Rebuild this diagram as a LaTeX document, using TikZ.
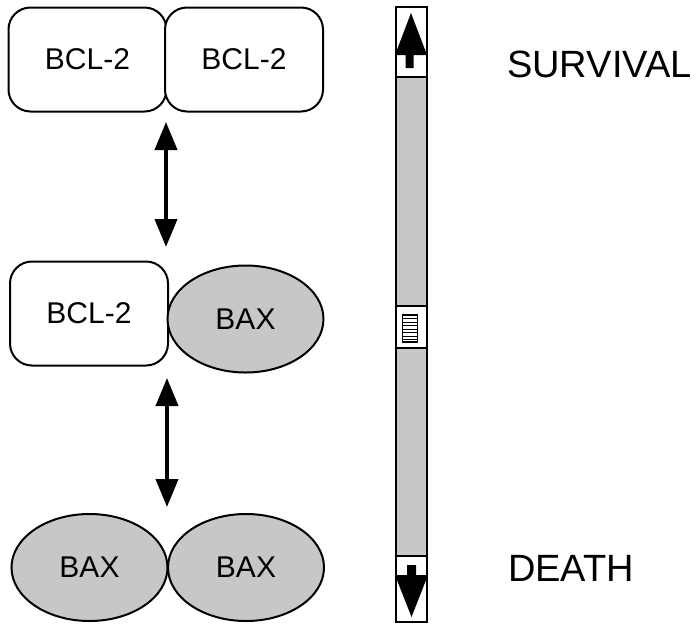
\documentclass[tikz,border=0pt]{standalone}
\usepackage{fontspec}
\setmainfont{Liberation Sans}
\usetikzlibrary{shapes.geometric,arrows.meta}
\tikzset{
  prot/.style={draw=black, line width=2pt, rounded corners=22pt, fill=white,
    minimum width=158pt, minimum height=104pt, inner sep=0pt,
    font=\fontsize{30pt}{33pt}\selectfont},
  baxe/.style={draw=black, line width=2pt, ellipse, fill=black!22,
    minimum width=156pt, minimum height=107pt, inner sep=0pt,
    font=\fontsize{30pt}{33pt}\selectfont},
  dbl/.style={line width=4pt, {Triangle[length=28pt,width=22pt]}-{Triangle[length=28pt,width=22pt]}},
  side/.style={font=\fontsize{38pt}{42pt}\selectfont, anchor=west, inner sep=0pt},
  bar/.style={draw=black, line width=2pt},
  track/.style={fill=black!22, draw=black, line width=2pt}
}
\begin{document}
\begin{tikzpicture}[x=1pt,y=-1pt]
\useasboundingbox (0,0) rectangle (696,625);
% top pair
\node[prot] (tl) at (87.5,59.5) {BCL-2};
\node[prot] (tr) at (244,59.5) {BCL-2};
% middle pair
\node[prot] (ml) at (89,313.5) {BCL-2};
\node[baxe] (mr) at (245.5,319) {BAX};
% bottom pair
\node[baxe] (bl) at (89.5,567.5) {BAX};
\node[baxe] (br) at (246,567.5) {BAX};
% double arrows
\coordinate (a1t) at (166,122);
\coordinate (a1b) at (166,247);
\coordinate (a2t) at (167,378);
\coordinate (a2b) at (167,507);
\draw[dbl] (a1t) -- (a1b);
\draw[dbl] (a2t) -- (a2b);
% scrollbar
\coordinate (sbtl) at (396,7);
\coordinate (sbbr) at (427,622);
\draw[track] (396,77) rectangle (427,306);
\draw[track] (396,348) rectangle (427,556);
\draw[bar] (sbtl) rectangle (sbbr);
\draw[bar] (396,77) -- (427,77);
\draw[bar] (396,306) -- (427,306);
\draw[bar] (396,348) -- (427,348);
\draw[bar] (396,556) -- (427,556);
% top arrow
\fill[black] (411,13) -- (427,55) -- (413.5,55) -- (413.5,68) -- (405.5,68) -- (405.5,55) -- (395,55) -- cycle;
% bottom arrow
\fill[black] (411.5,617) -- (395,575) -- (407,575) -- (407,565) -- (416,565) -- (416,575) -- (428,575) -- cycle;
% thumb grip
\draw[line width=1.6pt] (402.5,315) rectangle (417.5,342);
\foreach \yy in {318.5,322,325.5,329,332.5,336,339.5}
  \draw[line width=1pt] (402.5,\yy) -- (417.5,\yy);
% labels
\node[side] (surv) at (507,64.5) {SURVIVAL};
\node[side] (death) at (508,568) {DEATH};
\end{tikzpicture}
\end{document}
